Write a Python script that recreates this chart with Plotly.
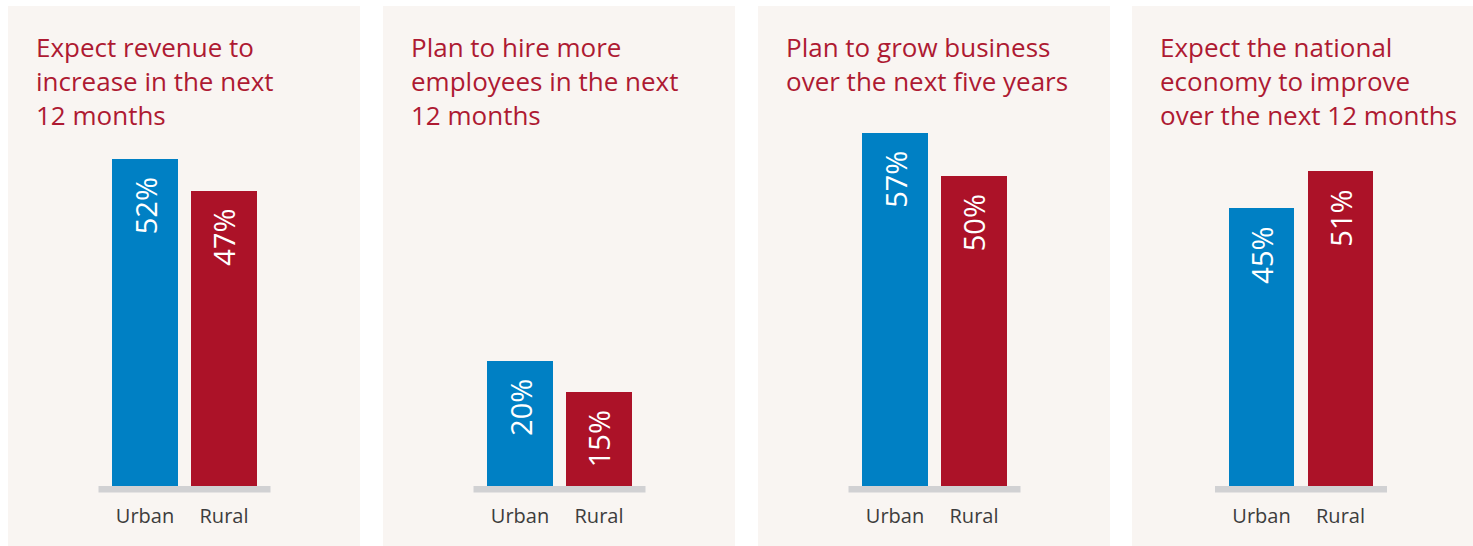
import plotly.graph_objects as go

W, H = 1473, 546

titles = [
    "Expect revenue to<br>increase in the next<br>12 months",
    "Plan to hire more<br>employees in the next<br>12 months",
    "Plan to grow business<br>over the next five years",
    "Expect the national<br>economy to improve<br>over the next 12 months",
]
categories = ["Urban", "Rural"]
urban = [52, 20, 57, 45]
rural = [47, 15, 50, 51]

BLUE = "#0080c4"
RED = "#ac1228"
PANEL_BG = "#f9f5f2"
TITLE_C = "#ae1a32"
BASE_C = "#d1d1d3"
LABEL_C = "#3d3d3d"
FONT = "Open Sans"

panel_left = [8, 383, 758, 1132]
panel_right = [360, 735, 1110, 1473]
group_center = [184.5, 559.5, 934.5, 1301]
yranges = [77.3, 77.6, 78.4, 78.8]

def px(x):
    return x / W

def py(y):
    return 1 - y / H

fig = go.Figure()
shapes = []
annotations = []
axis_bottom = 486

for i in range(4):
    n = "" if i == 0 else str(i + 1)
    center = group_center[i]
    vals = [urban[i], rural[i]]
    fig.add_trace(go.Bar(
        x=categories, y=vals,
        xaxis="x" + n, yaxis="y" + n,
        marker=dict(color=[BLUE, RED], line=dict(width=0)),
        width=0.835,
        text=[f"{v}%\u00a0\u00a0" for v in vals],
        textposition="inside", insidetextanchor="end", textangle=-90,
        insidetextfont=dict(family=FONT, size=29, color="white"),
        hoverinfo="skip", showlegend=False,
    ))
    fig.update_layout(**{
        "xaxis" + n: dict(domain=[px(center - 86), px(center + 86)], anchor="y" + n,
                          range=[-0.589, 1.589], showgrid=False, zeroline=False,
                          showline=False, ticks="", ticklabelstandoff=16,
                          tickfont=dict(family=FONT, size=20, color=LABEL_C),
                          fixedrange=True),
        "yaxis" + n: dict(domain=[py(axis_bottom), 1], anchor="x" + n,
                          range=[0, yranges[i]], visible=False, fixedrange=True),
    })
    # panel background
    shapes.append(dict(type="rect", xref="paper", yref="paper",
                       x0=px(panel_left[i]), x1=px(panel_right[i]),
                       y0=0, y1=py(6), fillcolor=PANEL_BG,
                       line=dict(width=0), layer="below"))
    # baseline
    shapes.append(dict(type="rect", xref=f"x{n} domain", yref="paper",
                       x0=0, x1=1, y0=py(492.5), y1=py(486),
                       fillcolor=BASE_C, line=dict(width=0), layer="below"))
    annotations.append(dict(text=titles[i], xref="paper", yref="paper",
                            x=px(panel_left[i] + 26), y=py(27),
                            xanchor="left", yanchor="top", align="left",
                            showarrow=False,
                            font=dict(family=FONT, size=26, color=TITLE_C)))

fig.update_layout(
    width=W, height=H,
    margin=dict(l=0, r=0, t=0, b=0),
    paper_bgcolor="white",
    plot_bgcolor="rgba(0,0,0,0)",
    shapes=shapes, annotations=annotations,
    bargap=0, showlegend=False,
)

fig.write_html("out.html",
               config={"displayModeBar": False, "staticPlot": True},
               post_script="document.body.style.margin='0';document.body.style.overflow='hidden';")
